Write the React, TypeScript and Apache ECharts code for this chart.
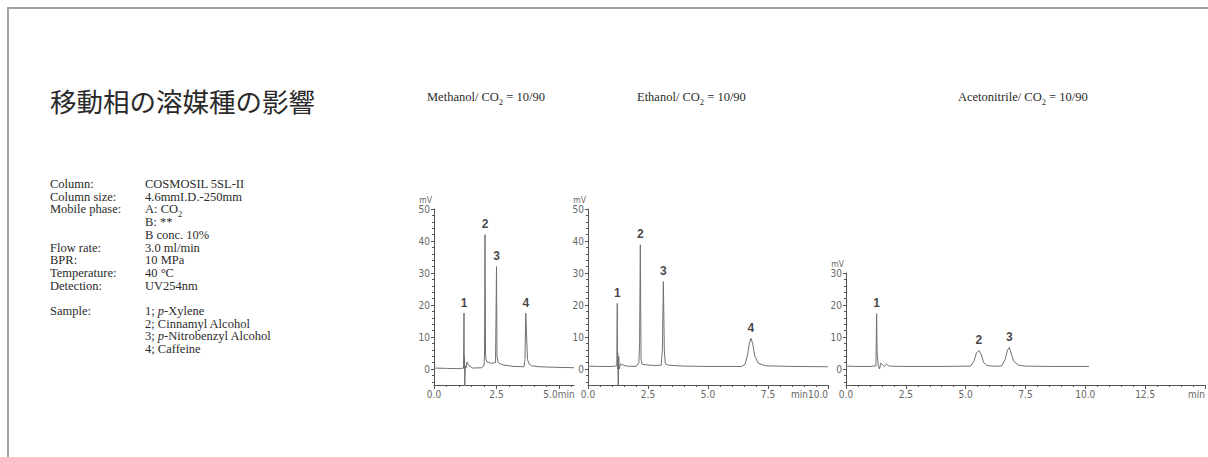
import React, { useEffect, useRef } from "react";
import * as echarts from "echarts";

const titleText = "移動相の溶媒種の影響";
const conditionLabels = ["Column:", "Column size:", "Mobile phase:", "", "", "Flow rate:", "BPR:", "Temperature:", "Detection:", "", "Sample:", "", "", ""];
const conditionValues = ["COSMOSIL 5SL-II", "4.6mmI.D.-250mm", "A: CO{sub|2}", "B: **", "B conc. 10%", "3.0 ml/min", "10 MPa", "40 °C", "UV254nm", "", "1; {i|p}-Xylene", "2; Cinnamyl Alcohol", "3; {i|p}-Nitrobenzyl Alcohol", "4; Caffeine"];
const panelTitles = ["Methanol/ CO{sub|2} = 10/90", "Ethanol/ CO{sub|2} = 10/90", "Acetonitrile/ CO{sub|2} = 10/90"];

// Methanol / CO2 chromatogram
const methanolTime = [0, 0.5, 1.0, 1.18, 1.2, 1.21, 1.22, 1.23, 1.25, 1.28, 1.32, 1.4, 1.55, 1.9, 2.0, 2.02, 2.04, 2.06, 2.08, 2.12, 2.3, 2.46, 2.48, 2.5, 2.52, 2.55, 2.6, 2.8, 3.2, 3.6, 3.64, 3.67, 3.7, 3.74, 3.8, 3.9, 4.2, 5.0, 5.6];
const methanolSignal = [0.3, 0.2, 0.1, 0.3, 17.5, 0, 4, -6, 1, 0.3, 2.2, 1, 0.3, 0.4, 1, 4, 42, 5, 3, 2.2, 1.8, 2, 16, 32, 4, 2.4, 1.8, 1.2, 0.8, 0.7, 3, 17.5, 11, 3, 1.6, 1, 0.7, 0.5, 0.4];
const methanolPeakNames = ["1", "2", "3", "4"];
const methanolPeakTimes = [1.2, 2.04, 2.5, 3.67];
const methanolPeakHeights = [17.5, 42, 32, 17.5];

// Ethanol / CO2 chromatogram
const ethanolTime = [0, 0.5, 1.0, 1.2, 1.22, 1.23, 1.24, 1.26, 1.28, 1.3, 1.35, 1.45, 1.6, 2.0, 2.12, 2.15, 2.18, 2.21, 2.25, 2.4, 2.8, 3.05, 3.1, 3.14, 3.18, 3.22, 3.35, 4.0, 5.0, 6.4, 6.55, 6.65, 6.72, 6.79, 6.86, 6.95, 7.1, 7.4, 8.5, 10.0];
const ethanolSignal = [0.9, 0.8, 0.8, 1, 20.5, 0, 5, -6, 4, 0, 1.5, 1.3, 0.9, 0.8, 2, 8, 38.8, 3, 1.5, 1.3, 1.1, 1.2, 6, 27.3, 6, 1.6, 1.2, 0.9, 0.8, 0.8, 1.5, 4.5, 8, 9.6, 8, 4, 1.8, 1.0, 0.8, 0.7];
const ethanolPeakNames = ["1", "2", "3", "4"];
const ethanolPeakTimes = [1.22, 2.18, 3.14, 6.79];
const ethanolPeakHeights = [20.5, 38.8, 27.3, 9.6];

// Acetonitrile / CO2 chromatogram
const acetonitrileTime = [0, 0.5, 1.0, 1.25, 1.28, 1.3, 1.35, 1.4, 1.45, 1.5, 1.6, 1.7, 1.8, 2.5, 4.0, 5.2, 5.35, 5.45, 5.55, 5.65, 5.75, 5.9, 6.1, 6.5, 6.65, 6.75, 6.82, 6.9, 7.0, 7.2, 7.5, 8.5, 10.15];
const acetonitrileSignal = [0.9, 0.8, 0.8, 1, 17.3, 5, 1, 0, 1.8, 1.5, 0.8, 1.5, 0.9, 0.8, 0.8, 0.9, 2.5, 5, 5.8, 4.5, 2, 1.1, 0.9, 0.9, 3, 6, 6.7, 5, 2.5, 1.2, 0.9, 0.8, 0.8];
const acetonitrilePeakNames = ["1", "2", "3"];
const acetonitrilePeakTimes = [1.28, 5.55, 6.82];
const acetonitrilePeakHeights = [17.3, 5.8, 6.7];

// Axis ticks
const methanolXTicks = [0, 2.5, 5];
const ethanolXTicks = [0, 2.5, 5, 7.5, 10];
const acetonitrileXTicks = [0, 2.5, 5, 7.5, 10, 12.5, 15];
const yTicks50 = [0, 10, 20, 30, 40, 50];
const yTicks30 = [0, 10, 20, 30];

const AXIS_COLOR = "#555";
const LABEL_COLOR = "#666";
const TEXT_COLOR = "#2b2b2b";
const NARROW = '"Liberation Sans Narrow", "DejaVu Sans Condensed", sans-serif';
const SERIF = '"Liberation Serif", "DejaVu Serif", serif';
const FS = 12.5;

function steps(min: number, max: number, step: number, skip: number[]) {
  const out: number[] = [];
  for (let v = min; v <= max + 1e-9; v += step) {
    const r = Math.round(v * 100) / 100;
    if (!skip.some((s) => Math.abs(s - r) < 1e-6)) out.push(r);
  }
  return out;
}

const richText = {
  sub: { fontSize: 8.5, fontFamily: SERIF, fill: TEXT_COLOR, lineHeight: 18, verticalAlign: "bottom" },
  i: { fontStyle: "italic", fontSize: FS, fontFamily: SERIF, fill: TEXT_COLOR, lineHeight: 18, verticalAlign: "middle" },
};

function buildOption() {
  const panels = [
    { left: 434, top: 209, width: 140, height: 176, xMax: 5.6, yMax: 50, xTicks: methanolXTicks, yTicks: yTicks50, time: methanolTime, signal: methanolSignal, names: methanolPeakNames, pt: methanolPeakTimes, ph: methanolPeakHeights, last: (v: number) => (v === 5 ? "5.0min" : v.toFixed(1)), alignMax: "center" },
    { left: 588, top: 209, width: 240, height: 176, xMax: 10, yMax: 50, xTicks: ethanolXTicks, yTicks: yTicks50, time: ethanolTime, signal: ethanolSignal, names: ethanolPeakNames, pt: ethanolPeakTimes, ph: ethanolPeakHeights, last: (v: number) => (v === 10 ? "min10.0" : v.toFixed(1)), alignMax: "right" },
    { left: 846, top: 273, width: 360, height: 112, xMax: 15, yMax: 30, xTicks: acetonitrileXTicks, yTicks: yTicks30, time: acetonitrileTime, signal: acetonitrileSignal, names: acetonitrilePeakNames, pt: acetonitrilePeakTimes, ph: acetonitrilePeakHeights, last: (v: number) => (v === 15 ? "min" : v.toFixed(1)), alignMax: "right" },
  ];
  const grid: any[] = [];
  const xAxis: any[] = [];
  const yAxis: any[] = [];
  const series: any[] = [];
  panels.forEach((p, i) => {
    grid.push({ left: p.left, top: p.top, width: p.width, height: p.height, containLabel: false });
    xAxis.push({
      type: "value", gridIndex: i, min: 0, max: p.xMax, position: "bottom",
      axisLine: { show: true, onZero: false, lineStyle: { color: AXIS_COLOR, width: 1 } },
      axisTick: { show: true, customValues: p.xTicks, length: 4, lineStyle: { color: AXIS_COLOR } },
      axisLabel: { show: true, customValues: p.xTicks, formatter: p.last, fontSize: 10, color: LABEL_COLOR, fontFamily: NARROW, margin: 4, alignMaxLabel: p.alignMax },
      splitLine: { show: false },
    });
    xAxis.push({
      type: "value", gridIndex: i, min: 0, max: p.xMax, position: "bottom",
      axisLine: { show: false, onZero: false },
      axisTick: { show: true, customValues: steps(0, p.xMax, 0.5, p.xTicks), length: 2, lineStyle: { color: AXIS_COLOR } },
      axisLabel: { show: false },
      splitLine: { show: false },
    });
    yAxis.push({
      type: "value", gridIndex: i, min: -5, max: p.yMax, position: "left",
      name: "mV", nameLocation: "end", nameGap: 3,
      nameTextStyle: { fontSize: 8.5, color: LABEL_COLOR, fontFamily: NARROW, align: "right", padding: [0, 2, 0, 0] },
      axisLine: { show: true, onZero: false, lineStyle: { color: AXIS_COLOR, width: 1 } },
      axisTick: { show: true, customValues: p.yTicks, length: 3, lineStyle: { color: AXIS_COLOR } },
      axisLabel: { show: true, customValues: p.yTicks, fontSize: 10, color: LABEL_COLOR, fontFamily: NARROW, margin: 4 },
      splitLine: { show: false },
    });
    yAxis.push({
      type: "value", gridIndex: i, min: -5, max: p.yMax, position: "left",
      axisLine: { show: false, onZero: false },
      axisTick: { show: true, customValues: steps(-4, p.yMax, 2, p.yTicks), length: 2, lineStyle: { color: AXIS_COLOR } },
      axisLabel: { show: false },
      splitLine: { show: false },
    });
    series.push({
      type: "line", xAxisIndex: 2 * i, yAxisIndex: 2 * i,
      data: p.time.map((t, k) => [t, p.signal[k]]),
      showSymbol: false, symbol: "none", clip: true,
      lineStyle: { color: "#707070", width: 1 },
      silent: true,
    });
    series.push({
      type: "scatter", xAxisIndex: 2 * i, yAxisIndex: 2 * i,
      data: p.pt.map((t, k) => ({ name: p.names[k], value: [t, p.ph[k]] })),
      symbolSize: 1, itemStyle: { color: "rgba(0,0,0,0)" },
      label: { show: true, position: "top", distance: 4, formatter: "{b}", fontSize: 12, fontWeight: "bold", color: "#111", fontFamily: '"Liberation Sans", Arial, sans-serif' },
      silent: true,
    });
  });

  const graphic: any[] = [
    { type: "rect", shape: { x: 8, y: 8, width: 1400, height: 700 }, style: { fill: "none", stroke: "#a3a3a3", lineWidth: 2 }, silent: true },
    { type: "text", x: 50, y: 100, style: { text: titleText, fontSize: 26.5, fontWeight: 400, fontFamily: '"Noto Sans CJK JP", sans-serif', fill: "#2a2a2a", verticalAlign: "middle" } },
  ];
  const lineH = 12.7;
  conditionLabels.forEach((t, k) => {
    if (t) graphic.push({ type: "text", x: 50, y: 184 + k * lineH, style: { text: t, fontSize: FS, fontFamily: SERIF, fill: TEXT_COLOR, verticalAlign: "middle" } });
  });
  conditionValues.forEach((t, k) => {
    if (t) graphic.push({ type: "text", x: 145, y: 184 + k * lineH, style: { text: t, fontSize: FS, fontFamily: SERIF, fill: TEXT_COLOR, lineHeight: 18, verticalAlign: "middle", rich: richText } });
  });
  const titleXs = [427, 637, 958];
  panelTitles.forEach((t, k) => {
    graphic.push({ type: "text", x: titleXs[k], y: 97, style: { text: t, fontSize: FS, fontFamily: SERIF, fill: TEXT_COLOR, lineHeight: 18, verticalAlign: "middle", rich: richText } });
  });

  return { animation: false, backgroundColor: "#fff", grid, xAxis, yAxis, series, graphic };
}

export default function App() {
  const ref = useRef<HTMLDivElement>(null);
  useEffect(() => {
    const chart = echarts.init(ref.current!, null, { renderer: "svg" });
    chart.setOption(buildOption());
    return () => chart.dispose();
  }, []);
  return <div ref={ref} style={{ position: "fixed", left: 0, top: 0, width: 1208, height: 457, background: "#fff" }} />;
}
